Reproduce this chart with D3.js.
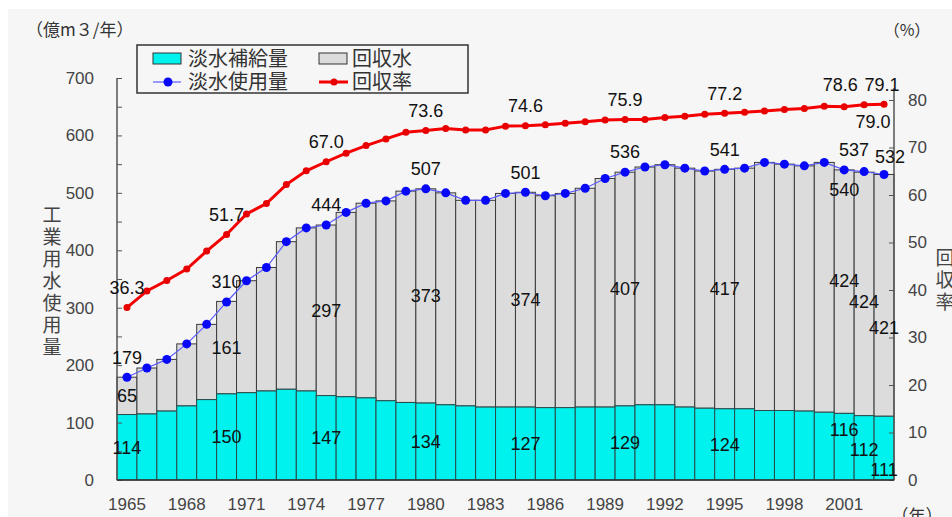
<!DOCTYPE html>
<html lang="ja">
<head>
  <meta charset="utf-8">
  <title>工業用水使用量と回収率</title>
  <script type="text/javascript" src="https://d3js.org/d3.v7.min.js"></script>
  <style type="text/css">
  body {
    margin: 0;
    background: #fff;
  }
  text {
    font-family: 'Liberation Sans', Arial, sans-serif;
  }
  .jp {
    font-family: 'Noto Sans CJK JP', sans-serif;
  }
  </style>
</head>
<body>
<script type="text/javascript">
var w = 952;
var h = 517;

// data (億m3/年, %)
var years = d3.range(1965, 2004);
var freshWater = [114, 115, 120, 129, 140, 150, 152, 155, 158, 155,
                  147, 145, 143, 138, 135, 134, 131, 129, 127, 127,
                  127, 126, 126, 127, 127, 129, 131, 131, 127, 125,
                  124, 124, 121, 121, 120, 118, 116, 112, 111];
var recycledWater = [65, 80, 90, 108, 131, 161, 195, 215, 257, 284,
                     297, 321, 339, 348, 368, 373, 369, 358, 360, 372,
                     374, 369, 373, 381, 398, 407, 414, 418, 416, 413,
                     417, 419, 432, 429, 427, 435, 424, 424, 421];
var totalUse = [179, 195, 210, 237, 271, 310, 347, 370, 415, 439,
                444, 466, 482, 486, 503, 507, 500, 487, 487, 499,
                501, 495, 499, 508, 525, 536, 545, 549, 543, 538,
                541, 543, 553, 550, 547, 553, 540, 537, 532];
var recycleRate = [36.3, 39.8, 42.0, 44.4, 48.2, 51.7, 56.0, 58.2, 62.2, 65.1,
                   67.0, 68.8, 70.4, 71.8, 73.2, 73.6, 74.0, 73.7, 73.7, 74.5,
                   74.6, 74.8, 75.1, 75.4, 75.8, 75.9, 75.9, 76.3, 76.6, 77.0,
                   77.2, 77.4, 77.7, 78.0, 78.2, 78.7, 78.6, 79.0, 79.1];
var labelYears = [1965, 1970, 1975, 1980, 1985, 1990, 1995, 2001, 2002, 2003];
var leftTicks = d3.range(0, 701, 50);
var rightTicks = d3.range(0, 81, 10);
var yearTicks = d3.range(1965, 2002, 3);

var rows = years.map(function(y, i) {
  return {year: y, fresh: freshWater[i], recycled: recycledWater[i],
          total: totalUse[i], rate: recycleRate[i]};
});

// hand placed labels at the crowded right end
var nudge = {
  2001: {fresh: [0, -17], recycled: [0, -11], total: [0, 40], rate: [-4, -2]},
  2002: {fresh: [0, 2], recycled: [0, 8], total: [-10, -2], rate: [9, 37]},
  2003: {fresh: [0, 22], recycled: [0, 32], total: [6, 2], rate: [-2, 0]}
};
function nd(year, key, k) {
  return nudge[year] ? nudge[year][key][k] : 0;
}

var x = d3.scaleBand()
  .domain(years)
  .range([117, 894])
  .padding(0);

var yL = d3.scaleLinear()
  .domain([0, 700])
  .range([480, 78]);

var yR = d3.scaleLinear()
  .domain([0, 80])
  .range([480, 100]);

var svg = d3.select("body")
  .append("svg")
  .attr("width", w)
  .attr("height", h);

svg.append("rect")
  .attr("x", 8).attr("y", 9)
  .attr("width", w - 8).attr("height", h - 9)
  .style("fill", "#f6f6f6");

// stacked bars
var bars = svg.append("g");
bars.selectAll("rect.gray")
  .data(rows)
  .enter()
  .append("rect")
  .attr("class", "gray")
  .attr("x", function(d) { return x(d.year); })
  .attr("width", x.bandwidth())
  .attr("y", function(d) { return yL(d.fresh + d.recycled); })
  .attr("height", function(d) { return yL(d.fresh) - yL(d.fresh + d.recycled); })
  .style("fill", "#dcdcdc")
  .style("stroke", "#3a3a3a")
  .style("stroke-width", 1);

bars.selectAll("rect.cyan")
  .data(rows)
  .enter()
  .append("rect")
  .attr("class", "cyan")
  .attr("x", function(d) { return x(d.year); })
  .attr("width", x.bandwidth())
  .attr("y", function(d) { return yL(d.fresh); })
  .attr("height", function(d) { return yL(0) - yL(d.fresh); })
  .style("fill", "#00f2ee")
  .style("stroke", "#2a4a4a")
  .style("stroke-width", 1);

// axes
var leftAxis = d3.axisLeft(yL)
  .tickValues(leftTicks)
  .tickSize(-5)
  .tickPadding(23)
  .tickFormat(function(d) { return d % 100 === 0 ? d : ""; });

var gl = svg.append("g")
  .attr("transform", "translate(117,0)")
  .call(leftAxis);

var rightAxis = d3.axisRight(yR)
  .tickValues(rightTicks)
  .tickSize(-5)
  .tickPadding(14);

var gr = svg.append("g")
  .attr("transform", "translate(894,0)")
  .call(rightAxis);

var bottomAxis = d3.axisBottom(x)
  .tickValues(yearTicks)
  .tickSize(0)
  .tickPadding(18);

var gb = svg.append("g")
  .attr("transform", "translate(0,480)")
  .call(bottomAxis);

[gl, gr, gb].forEach(function(g) {
  g.select(".domain").remove();
  g.selectAll("line").style("stroke", "#555");
  g.selectAll("text")
    .style("font-size", "17px")
    .style("fill", "#444")
    .style("font-family", "'Liberation Sans', Arial, sans-serif");
});

svg.append("line")
  .attr("x1", 117).attr("x2", 117)
  .attr("y1", yL(700)).attr("y2", yL(0))
  .style("stroke", "#555").style("stroke-width", 1.5);
svg.append("line")
  .attr("x1", 894).attr("x2", 894)
  .attr("y1", yR(80) - 12).attr("y2", yR(0))
  .style("stroke", "#555").style("stroke-width", 1.5);
svg.append("line")
  .attr("x1", 117).attr("x2", 894)
  .attr("y1", 480).attr("y2", 480)
  .style("stroke", "#333").style("stroke-width", 1.5);

// 淡水使用量 line
var cx = function(d) { return x(d.year) + x.bandwidth() / 2; };

svg.append("path")
  .datum(rows)
  .attr("d", d3.line().x(cx).y(function(d) { return yL(d.total); }))
  .style("fill", "none")
  .style("stroke", "#5b5bff")
  .style("stroke-width", 1.2);

svg.selectAll("circle.use")
  .data(rows)
  .enter()
  .append("circle")
  .attr("class", "use")
  .attr("cx", cx)
  .attr("cy", function(d) { return yL(d.total); })
  .attr("r", 4.5)
  .style("fill", "#0808f8");

// 回収率 line
svg.append("path")
  .datum(rows)
  .attr("d", d3.line().x(cx).y(function(d) { return yR(d.rate); }))
  .style("fill", "none")
  .style("stroke", "#f40000")
  .style("stroke-width", 3);

svg.selectAll("circle.rate")
  .data(rows)
  .enter()
  .append("circle")
  .attr("class", "rate")
  .attr("cx", cx)
  .attr("cy", function(d) { return yR(d.rate); })
  .attr("r", 3.5)
  .style("fill", "#e80000");

// value labels
var labelled = rows.filter(function(d) { return labelYears.indexOf(d.year) >= 0; });

function addLabels(key, ypos, fmt) {
  svg.selectAll("text.lab-" + key)
    .data(labelled)
    .enter()
    .append("text")
    .attr("class", "lab-" + key)
    .attr("x", function(d) { return cx(d) + nd(d.year, key, 0); })
    .attr("y", function(d) { return ypos(d) + nd(d.year, key, 1); })
    .attr("dy", "0.35em")
    .attr("text-anchor", "middle")
    .style("font-size", "18px")
    .style("fill", "#111")
    .text(fmt);
}

addLabels("fresh", function(d) { return yL(d.fresh / 2); }, function(d) { return d.fresh; });
addLabels("recycled", function(d) { return yL(d.fresh + d.recycled / 2); }, function(d) { return d.recycled; });
addLabels("total", function(d) { return yL(d.total) - 20; }, function(d) { return d.total; });
addLabels("rate", function(d) { return yR(d.rate) - 20; }, function(d) { return d.rate.toFixed(1); });

// unit labels
svg.append("text")
  .attr("class", "jp")
  .attr("x", 26).attr("y", 30).attr("dy", "0.35em")
  .style("font-size", "17px").style("fill", "#333")
  .text("（億m３/年）");

svg.append("text")
  .attr("class", "jp")
  .attr("x", 907).attr("y", 30).attr("dy", "0.35em")
  .attr("text-anchor", "middle")
  .style("font-size", "16px").style("fill", "#333")
  .text("（%）");

svg.append("text")
  .attr("class", "jp")
  .attr("x", 917).attr("y", 522)
  .attr("text-anchor", "middle")
  .style("font-size", "17px").style("fill", "#333")
  .text("（年）");

// vertical axis titles
var leftTitle = "工業用水使用量".split("");
svg.selectAll("text.ltitle")
  .data(leftTitle)
  .enter()
  .append("text")
  .attr("class", "ltitle jp")
  .attr("x", 52)
  .attr("y", function(d, i) { return 215 + i * 22; })
  .attr("dy", "0.35em")
  .attr("text-anchor", "middle")
  .style("font-size", "19px")
  .style("fill", "#444")
  .text(function(d) { return d; });

var rightTitle = "回収率".split("");
svg.selectAll("text.rtitle")
  .data(rightTitle)
  .enter()
  .append("text")
  .attr("class", "rtitle jp")
  .attr("x", 945)
  .attr("y", function(d, i) { return 258 + i * 22; })
  .attr("dy", "0.35em")
  .attr("text-anchor", "middle")
  .style("font-size", "19px")
  .style("fill", "#444")
  .text(function(d) { return d; });

// legend
var legend = svg.append("g");
legend.append("rect")
  .attr("x", 137).attr("y", 45)
  .attr("width", 331).attr("height", 48)
  .style("fill", "#f6f6f6")
  .style("stroke", "#333")
  .style("stroke-width", 1.5);

legend.append("rect")
  .attr("x", 153).attr("y", 53).attr("width", 28).attr("height", 11)
  .style("fill", "#00f2ee").style("stroke", "#333");
legend.append("rect")
  .attr("x", 319).attr("y", 53).attr("width", 28).attr("height", 11)
  .style("fill", "#dcdcdc").style("stroke", "#333");
legend.append("line")
  .attr("x1", 153).attr("x2", 181).attr("y1", 82).attr("y2", 82)
  .style("stroke", "#5b5bff").style("stroke-width", 1.2);
legend.append("circle")
  .attr("cx", 168).attr("cy", 82).attr("r", 4.5)
  .style("fill", "#0808f8");
legend.append("line")
  .attr("x1", 319).attr("x2", 348).attr("y1", 82).attr("y2", 82)
  .style("stroke", "#f40000").style("stroke-width", 3);
legend.append("circle")
  .attr("cx", 334).attr("cy", 82).attr("r", 3.5)
  .style("fill", "#e80000");

var legendText = [
  {t: "淡水補給量", x: 188, y: 59},
  {t: "回収水", x: 352, y: 59},
  {t: "淡水使用量", x: 188, y: 82},
  {t: "回収率", x: 352, y: 82}
];
legend.selectAll("text")
  .data(legendText)
  .enter()
  .append("text")
  .attr("class", "jp")
  .attr("x", function(d) { return d.x; })
  .attr("y", function(d) { return d.y; })
  .attr("dy", "0.35em")
  .style("font-size", "20px")
  .style("fill", "#333")
  .text(function(d) { return d.t; });
</script>
</body>
</html>
